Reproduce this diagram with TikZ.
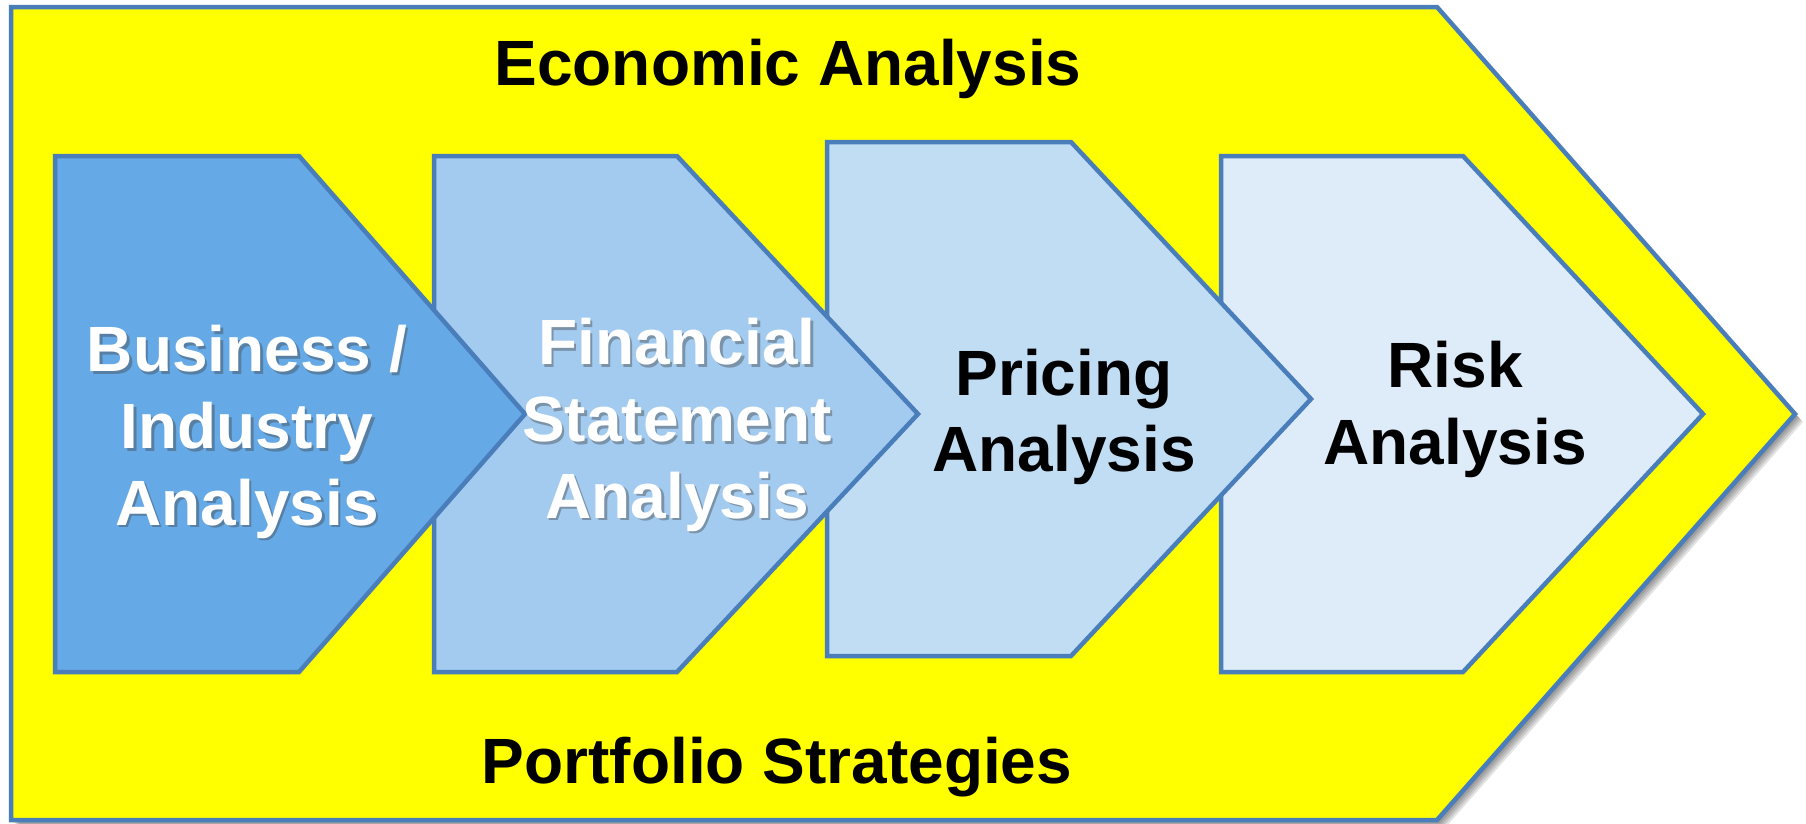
\documentclass[tikz,border=0pt]{standalone}
\usepackage{fontspec}
\setmainfont{Liberation Sans}
\definecolor{edgeblue}{HTML}{4A7EBB}
\definecolor{fillA}{HTML}{65A9E6}
\definecolor{fillB}{HTML}{A3CBF0}
\definecolor{fillC}{HTML}{C1DDF4}
\definecolor{fillD}{HTML}{DEECF9}
\definecolor{bigyellow}{HTML}{FFFF00}
\tikzset{
  outerbox/.style={draw=edgeblue, line width=4.5pt, fill=bigyellow, line join=miter},
  shadowlayer/.style={fill=black, opacity=0.11},
  stepbox/.style={draw=edgeblue, line width=4.5pt, line join=miter},
  headtext/.style={font=\fontsize{64}{77}\selectfont\bfseries, text=black, inner sep=0pt, anchor=base},
  boxtext/.style={font=\fontsize{64}{76.7}\selectfont\bfseries, align=center, inner sep=0pt, anchor=center},
  whitetext/.style={boxtext, text=white},
  shadowtext/.style={boxtext, text=black!75, opacity=0.4},
  darktext/.style={boxtext, text=black}
}
\begin{document}
\begin{tikzpicture}[x=1pt,y=-1pt]
\useasboundingbox (0,0) rectangle (1806,823);
% soft shadow of the outer chevron
\foreach \s in {2,3.5,5,6.5,8}{
  \fill[shadowlayer, shift={(\s,\s)}] (11,7) -- (1437,7) -- (1795,414) -- (1437,820) -- (11,820) -- cycle;
}
% outer chevron
\draw[outerbox] (11,7) -- (1437,7) -- (1795,414) -- (1437,820) -- (11,820) -- cycle;
% inner chevrons (drawn right to left so left ones lie on top)
\draw[stepbox, fill=fillD] (1221,156) -- (1463,156) -- (1703,414) -- (1463,672) -- (1221,672) -- cycle;
\draw[stepbox, fill=fillC] (827,142) -- (1071,142) -- (1311,399) -- (1071,656) -- (827,656) -- cycle;
\draw[stepbox, fill=fillB] (434,156) -- (677,156) -- (918,414) -- (677,672) -- (434,672) -- cycle;
\draw[stepbox, fill=fillA] (55,156) -- (299,156) -- (525,414) -- (299,672) -- (55,672) -- cycle;
% header / footer
\node[headtext] (econ) at (788,85) {Economic Analysis};
\node[headtext] (port) at (777,783) {Portfolio Strategies};
% box labels
\node[shadowtext] (bizs) at (249.5,434.5) {Business /\\Industry\\Analysis};
\node[whitetext] (biz) at (247,432) {Business /\\Industry\\Analysis};
\node[shadowtext] (fins) at (679.5,427.5) {Financial\\Statement\\Analysis};
\node[whitetext] (fin) at (677,425) {Financial\\Statement\\Analysis};
\node[darktext] (pri) at (1064,417) {Pricing\\Analysis};
\node[darktext] (risk) at (1455,409.5) {Risk\\Analysis};
\end{tikzpicture}
\end{document}
